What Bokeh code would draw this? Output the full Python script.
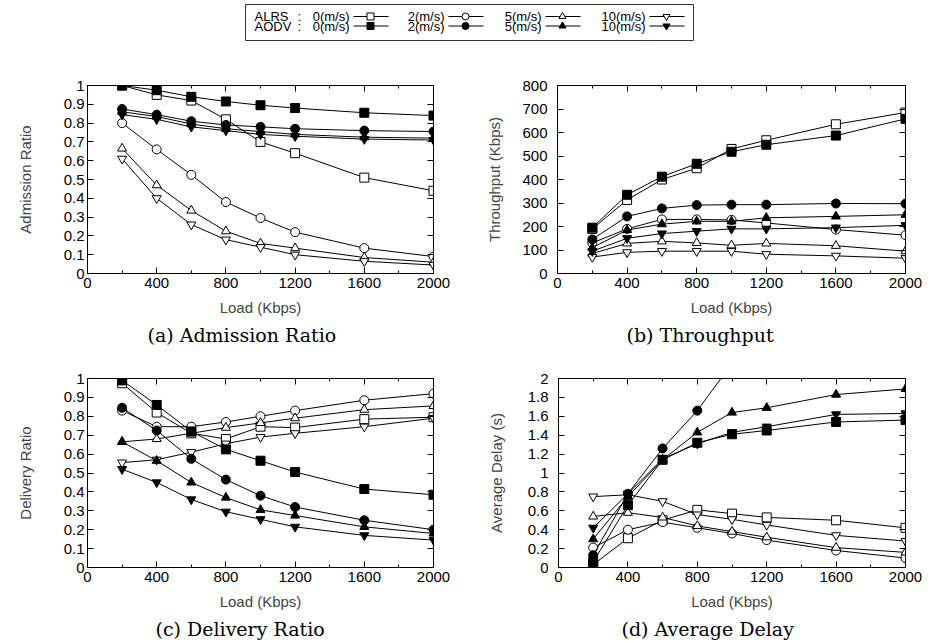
from bokeh.plotting import figure
from bokeh.models import (Range1d, LinearAxis, FixedTicker, CustomJSTickFormatter,
                          Title, CustomLabelingPolicy)
from bokeh.layouts import column, row
from bokeh.embed import file_html
from bokeh.resources import INLINE
from bokeh.core.properties import value

# ---------------- data ----------------
load = [200, 400, 600, 800, 1000, 1200, 1600, 2000]
x_ticks = [0, 400, 800, 1200, 1600, 2000]
x_minor = [200, 600, 1000, 1400, 1800]

protocols = ["ALRS", "AODV"]
speeds = ["0(m/s)", "2(m/s)", "5(m/s)", "10(m/s)"]

# (a) Admission Ratio
adm_alrs_0 = [1.0, 0.95, 0.92, 0.82, 0.70, 0.64, 0.51, 0.44]
adm_alrs_2 = [0.80, 0.66, 0.525, 0.38, 0.295, 0.22, 0.135, 0.09]
adm_alrs_5 = [0.665, 0.47, 0.335, 0.225, 0.16, 0.135, 0.085, 0.06]
adm_alrs_10 = [0.61, 0.40, 0.26, 0.18, 0.14, 0.10, 0.065, 0.045]
adm_aodv_0 = [1.0, 0.975, 0.94, 0.915, 0.895, 0.88, 0.855, 0.84]
adm_aodv_2 = [0.875, 0.845, 0.81, 0.79, 0.78, 0.77, 0.76, 0.755]
adm_aodv_5 = [0.86, 0.835, 0.795, 0.77, 0.755, 0.74, 0.725, 0.72]
adm_aodv_10 = [0.845, 0.82, 0.78, 0.76, 0.74, 0.73, 0.715, 0.71]
adm_yticks = [0, 0.1, 0.2, 0.3, 0.4, 0.5, 0.6, 0.7, 0.8, 0.9, 1]

# (b) Throughput (Kbps)
thr_alrs_0 = [190, 313, 400, 448, 530, 567, 635, 685]
thr_alrs_2 = [130, 190, 230, 230, 228, 215, 187, 163]
thr_alrs_5 = [85, 128, 137, 130, 120, 128, 118, 95]
thr_alrs_10 = [70, 90, 95, 95, 95, 82, 75, 65]
thr_aodv_0 = [195, 335, 412, 467, 518, 548, 587, 658]
thr_aodv_2 = [145, 243, 277, 291, 293, 293, 298, 297]
thr_aodv_5 = [110, 185, 210, 222, 222, 237, 243, 250]
thr_aodv_10 = [95, 150, 170, 180, 190, 190, 195, 205]
thr_yticks = [0, 100, 200, 300, 400, 500, 600, 700, 800]

# (c) Delivery Ratio
dlv_alrs_0 = [0.975, 0.82, 0.71, 0.68, 0.745, 0.74, 0.785, 0.795]
dlv_alrs_2 = [0.83, 0.745, 0.745, 0.77, 0.80, 0.83, 0.885, 0.92]
dlv_alrs_5 = [0.665, 0.68, 0.71, 0.74, 0.765, 0.79, 0.835, 0.855]
dlv_alrs_10 = [0.555, 0.57, 0.61, 0.655, 0.69, 0.71, 0.745, 0.79]
dlv_aodv_0 = [0.99, 0.86, 0.72, 0.625, 0.565, 0.505, 0.415, 0.385]
dlv_aodv_2 = [0.845, 0.725, 0.575, 0.465, 0.38, 0.32, 0.25, 0.20]
dlv_aodv_5 = [0.665, 0.565, 0.45, 0.37, 0.305, 0.275, 0.215, 0.18]
dlv_aodv_10 = [0.52, 0.45, 0.36, 0.295, 0.255, 0.215, 0.17, 0.145]
dlv_yticks = [0, 0.1, 0.2, 0.3, 0.4, 0.5, 0.6, 0.7, 0.8, 0.9, 1]

# (d) Average Delay (s)
dly_alrs_0 = [0.03, 0.31, 0.50, 0.61, 0.57, 0.53, 0.50, 0.42]
dly_alrs_2 = [0.21, 0.40, 0.48, 0.42, 0.36, 0.29, 0.18, 0.10]
dly_alrs_5 = [0.54, 0.58, 0.53, 0.44, 0.38, 0.32, 0.21, 0.16]
dly_alrs_10 = [0.75, 0.77, 0.70, 0.56, 0.51, 0.45, 0.34, 0.28]
dly_aodv_0 = [0.06, 0.66, 1.14, 1.32, 1.41, 1.45, 1.54, 1.56]
dly_aodv_2 = [0.13, 0.78, 1.26, 1.66, 2.16, 2.4, 2.6, 2.7]
dly_aodv_5 = [0.30, 0.75, 1.14, 1.43, 1.64, 1.69, 1.83, 1.89]
dly_aodv_10 = [0.42, 0.78, 1.15, 1.31, 1.43, 1.49, 1.62, 1.63]
dly_yticks = [0, 0.2, 0.4, 0.6, 0.8, 1, 1.2, 1.4, 1.6, 1.8, 2]

# ---------------- style ----------------
MARKERS = ["square", "circle", "triangle", "inverted_triangle"]
MSIZE = [9, 9, 9, 9]
SANS = "Liberation Sans"
SERIF = "DejaVu Serif"
FS = "15px"

NO_LABELS = CustomLabelingPolicy(code="for (const i of indices) { indices.unset(i) } return indices;")


def style_axis(ax, labels=True, standoff=4):
    ax.axis_line_color = "black"
    ax.major_tick_line_color = "black"
    ax.minor_tick_line_color = "black"
    ax.major_tick_in = 6
    ax.major_tick_out = 0
    ax.minor_tick_in = 3
    ax.minor_tick_out = 0
    ax.major_label_text_font = SANS
    ax.major_label_text_color = "black"
    ax.major_label_standoff = standoff
    if labels:
        ax.major_label_text_font_size = FS
    else:
        ax.major_label_policy = NO_LABELS
        ax.major_label_text_font_size = "1px"
        ax.major_label_standoff = 0


def panel(alrs, aodv, y_end, yticks, ylabel, caption, width, height,
          ml, mr, mt, mb, ystandoff, ylab_standoff, cap_offset):
    p = figure(width=width, height=height, x_range=Range1d(0, 2000),
               y_range=Range1d(0, y_end), output_backend="svg",
               toolbar_location=None, min_border_left=ml, min_border_right=mr,
               min_border_top=mt, min_border_bottom=mb)
    p.grid.visible = False
    p.outline_line_color = "black"
    p.background_fill_color = "white"
    p.border_fill_color = "white"

    fmt = CustomJSTickFormatter(code="return String(Math.round(tick*1000)/1000);")
    xt = FixedTicker(ticks=x_ticks, minor_ticks=x_minor)
    yt = FixedTicker(ticks=yticks)

    xa = p.xaxis[0]
    xa.ticker = xt
    style_axis(xa, True, 4)
    xa.axis_label = "Load (Kbps)"
    xa.axis_label_text_font = SANS
    xa.axis_label_text_font_size = FS
    xa.axis_label_text_font_style = "normal"
    xa.axis_label_standoff = 8

    ya = p.yaxis[0]
    ya.ticker = yt
    ya.formatter = fmt
    style_axis(ya, True, ystandoff)
    ya.axis_label = ylabel
    ya.axis_label_text_font = SANS
    ya.axis_label_text_font_size = FS
    ya.axis_label_text_font_style = "normal"
    ya.axis_label_standoff = ylab_standoff

    top = LinearAxis(ticker=FixedTicker(ticks=x_ticks, minor_ticks=x_minor))
    style_axis(top, False)
    p.add_layout(top, "above")
    right = LinearAxis(ticker=FixedTicker(ticks=yticks))
    style_axis(right, False)
    p.add_layout(right, "right")

    for series, filled in ((alrs, False), (aodv, True)):
        for i, ys in enumerate(series):
            p.line(load, ys, line_color="black", line_width=1)
            p.scatter(load, ys, marker=MARKERS[i], size=MSIZE[i],
                      line_color="black", line_width=1,
                      fill_color="black" if filled else "white")

    t = Title(text=caption, align="left", offset=cap_offset, standoff=6,
              text_font=SERIF, text_font_size="19px",
              text_font_style="normal", text_color="black")
    p.add_layout(t, "below")
    return p


pa = panel([adm_alrs_0, adm_alrs_2, adm_alrs_5, adm_alrs_10],
           [adm_aodv_0, adm_aodv_2, adm_aodv_5, adm_aodv_10],
           1, adm_yticks, "Admission Ratio", "(a) Admission Ratio",
           460, 306, 87, 27, 41, 77, 3, 27, 60)
pb = panel([thr_alrs_0, thr_alrs_2, thr_alrs_5, thr_alrs_10],
           [thr_aodv_0, thr_aodv_2, thr_aodv_5, thr_aodv_10],
           800, thr_yticks, "Throughput (Kbps)", "(b) Throughput",
           474, 306, 97, 29, 41, 77, 10, 16, 69)
pc = panel([dlv_alrs_0, dlv_alrs_2, dlv_alrs_5, dlv_alrs_10],
           [dlv_aodv_0, dlv_aodv_2, dlv_aodv_5, dlv_aodv_10],
           1, dlv_yticks, "Delivery Ratio", "(c) Delivery Ratio",
           460, 293, 87, 27, 28, 76, 3, 27, 68)
pd = panel([dly_alrs_0, dly_alrs_2, dly_alrs_5, dly_alrs_10],
           [dly_aodv_0, dly_aodv_2, dly_aodv_5, dly_aodv_10],
           2, dly_yticks, "Average Delay (s)", "(d) Average Delay",
           474, 293, 98, 29, 28, 76, 10, 20, 63)

# ---------------- legend strip (pixel coordinates) ----------------
lg = figure(width=934, height=44, x_range=Range1d(0, 934), y_range=Range1d(44, 0),
            output_backend="svg", toolbar_location=None,
            x_axis_location=None, y_axis_location=None,
            min_border=0, min_border_left=0, min_border_right=0,
            min_border_top=0, min_border_bottom=0)
lg.grid.visible = False
lg.outline_line_color = None
lg.quad(left=[245], right=[693], top=[4], bottom=[40], fill_color=None,
        line_color="#333333", line_width=1)
row_y = [16, 25.5]
lg.text(x=[254, 254], y=row_y, text=protocols, text_align="left",
        text_baseline="middle", text_font=value(SANS), text_font_size="13px",
        text_color="black")
lg.text(x=[297, 297], y=row_y, text=[":", ":"], text_align="left",
        text_baseline="middle", text_font=value(SANS), text_font_size="13px",
        text_color="black")
text_right = [349, 444, 541, 645]
for i, sp in enumerate(speeds):
    xr = text_right[i]
    lg.text(x=[xr, xr], y=row_y, text=[sp, sp], text_align="right",
            text_baseline="middle", text_font=value(SANS),
            text_font_size="13px", text_color="black")
    for j, yy in enumerate(row_y):
        lg.segment(x0=[xr + 4], y0=[yy], x1=[xr + 39], y1=[yy],
                   line_color="black", line_width=1)
        lg.scatter(x=[xr + 21], y=[yy], marker=MARKERS[i], size=7,
                   line_color="black", line_width=1,
                   fill_color="black" if j == 1 else "white")

layout = column(lg, row(pa, pb), row(pc, pd))

open("out.html", "w").write(file_html(layout, INLINE))
